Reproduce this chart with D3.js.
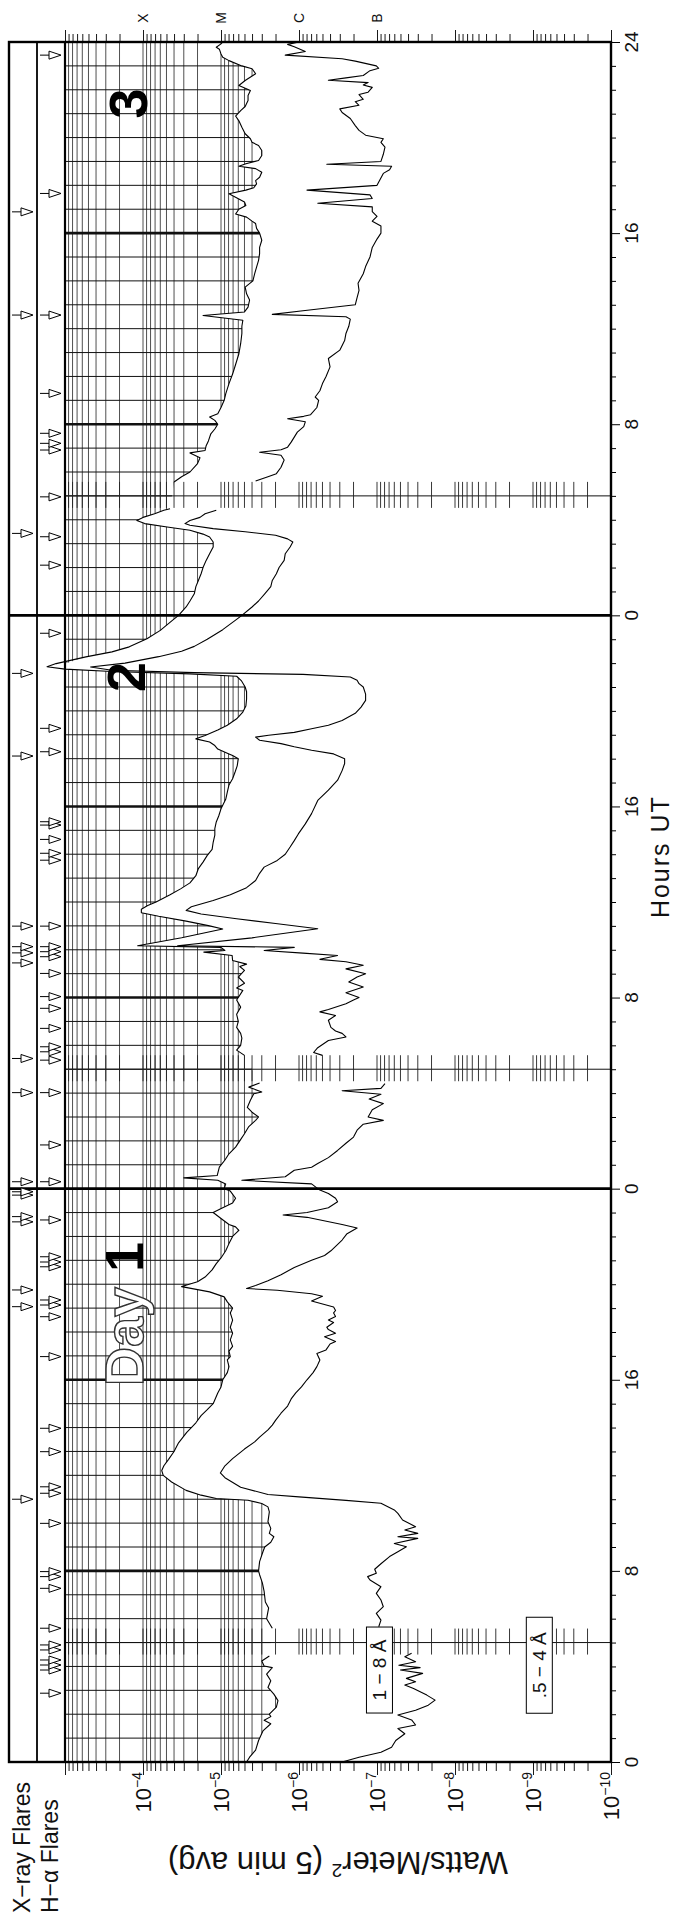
<!DOCTYPE html>
<html>
<head>
<meta charset="utf-8">
<title>GOES X-ray Flux, 3 days</title>
<script src="https://cdn.jsdelivr.net/npm/d3@7"></script>
<style>
html,body{margin:0;padding:0;background:#fff;}
svg{display:block;}
text{font-family:"Liberation Sans",Arial,Helvetica,sans-serif;}
</style>
</head>
<body>
<svg id="chart" width="691" height="1919"></svg>
<script>
// ---------------- data ----------------
// 5-minute averaged X-ray flux [hour UT, W/m^2]; null marks a data gap
const longDay1 = [[0,4.7e-6],[0.2,4.3e-6],[0.5,3.6e-6],[0.9,3.3e-6],[1.3,2.9e-6],[1.6,2.3e-6],[1.75,2.8e-6],[1.9,2.3e-6],[2.0,2.4e-6],[2.3,1.95e-6],[2.57,1.86e-6],[2.84,2.1e-6],[3.12,2.5e-6],[3.4,2.3e-6],[3.68,2.6e-6],[3.95,2.2e-6],[4.02,2.8e-6],[4.23,3.0e-6],[4.44,2.4e-6],[4.5,null],[5.6,2.2e-6],[6.0,2.6e-6],[6.45,2.45e-6],[6.7,2.7e-6],[7.14,2.8e-6],[7.5,2.95e-6],[7.84,3.2e-6],[8.0,3.3e-6],[8.39,3.2e-6],[8.8,2.9e-6],[9.0,2.75e-6],[9.2,2.3e-6],[9.43,2.1e-6],[9.57,2.4e-6],[9.78,2.3e-6],[10.06,2.5e-6],[10.47,2.4e-6],[10.68,2.5e-6],[10.82,3.0e-6],[10.96,4.5e-6],[11.03,1.15e-5],[11.17,1.8e-5],[11.37,2.8e-5],[11.72,4.3e-5],[12.0,5.5e-5],[12.2,5.75e-5],[12.4,5.4e-5],[12.67,4.7e-5],[13.0,4.0e-5],[13.36,3.5e-5],[13.8,2.75e-5],[14.0,2.4e-5],[14.2,2.1e-5],[14.5,1.8e-5],[14.75,1.5e-5],[15.0,1.26e-5],[15.45,1.1e-5],[15.7,1.0e-5],[16.0,9.5e-6],[16.3,8.3e-6],[16.55,7.9e-6],[16.83,8.3e-6],[16.97,7.6e-6],[17.2,7.9e-6],[17.4,7.1e-6],[17.67,7.6e-6],[17.95,7.1e-6],[18.2,7.6e-6],[18.5,7.1e-6],[18.8,7.6e-6],[19.0,7.1e-6],[19.26,8.3e-6],[19.47,9.1e-6],[19.68,1.4e-5],[19.9,3.2e-5],[19.97,2.75e-5],[20.1,2.0e-5],[20.3,1.6e-5],[20.6,1.3e-5],[20.86,1.15e-5],[21.1,1.0e-5],[21.4,8.7e-6],[21.7,7.9e-6],[22.0,7.1e-6],[22.25,5.9e-6],[22.4,6.5e-6],[22.5,7.9e-6],[22.75,1.0e-5],[23.0,1.26e-5],[23.2,9.5e-6],[23.4,7.1e-6],[23.6,6.5e-6],[23.9,7.6e-6],[24.0,9.1e-6]];
const longDay2 = [[0,9.1e-6],[0.2,8.7e-6],[0.35,1.1e-5],[0.45,3.0e-5],[0.55,1.12e-5],[0.9,1.05e-5],[1.2,8.9e-6],[1.46,7.9e-6],[1.74,6.5e-6],[2.0,5.75e-6],[2.3,5.0e-6],[2.6,4.4e-6],[2.86,3.6e-6],[3.0,3.3e-6],[3.2,4.0e-6],[3.4,4.6e-6],[3.7,4.2e-6],[3.97,3.8e-6],[4.05,3.0e-6],[4.25,4.4e-6],[4.42,3.2e-6],[4.46,null],[5.58,5.0e-6],[5.8,6.3e-6],[6.0,5.6e-6],[6.3,5.4e-6],[6.5,5.6e-6],[6.75,6.3e-6],[7.0,6.0e-6],[7.3,6.3e-6],[7.6,5.6e-6],[7.9,6.3e-6],[8.0,6.0e-6],[8.3,5.25e-6],[8.4,6.3e-6],[8.6,5.0e-6],[8.86,6.0e-6],[9.14,5.0e-6],[9.3,5.75e-6],[9.4,4.7e-6],[9.55,7.1e-6],[9.76,7.2e-6],[9.9,1.66e-5],[9.97,8.9e-6],[10.1,1.0e-5],[10.17,1.17e-4],[10.5,3.2e-5],[10.87,9.5e-6],[11.0,1.4e-5],[11.2,2.8e-5],[11.4,6.3e-5],[11.55,1.05e-4],[11.7,1.05e-4],[11.85,8.7e-5],[12.0,6.8e-5],[12.3,4.5e-5],[12.55,3.3e-5],[12.8,2.5e-5],[13.1,2.1e-5],[13.4,1.95e-5],[13.67,1.7e-5],[13.95,1.5e-5],[14.2,1.3e-5],[14.5,1.26e-5],[14.8,1.2e-5],[15.07,1.2e-5],[15.35,1.15e-5],[15.6,1.07e-5],[15.9,1.0e-5],[16.3,8.7e-6],[16.6,8.3e-6],[16.9,7.9e-6],[17.16,7.1e-6],[17.44,6.6e-6],[17.7,6.2e-6],[18.0,6.0e-6],[18.13,7.1e-6],[18.2,7.9e-6],[18.4,1.1e-5],[18.55,1.2e-5],[18.7,1.4e-5],[18.83,2.1e-5],[18.97,1.6e-5],[19.2,1.1e-5],[19.4,8.3e-6],[19.67,6.3e-6],[19.95,5.25e-6],[20.2,4.8e-6],[20.5,4.7e-6],[20.8,4.7e-6],[21.0,4.9e-6],[21.27,5.5e-6],[21.45,6.3e-6],[21.55,2.5e-5],[21.65,2.5e-4],[21.75,1.0e-3],[21.85,1.7e-3],[21.98,1.3e-3],[22.26,5.4e-4],[22.47,2.5e-4],[22.68,1.5e-4],[23.02,8.9e-5],[23.37,6.0e-5],[23.79,4.2e-5],[24.0,3.5e-5]];
const longDay3 = [[0,3.5e-5],[0.35,2.8e-5],[0.6,2.5e-5],[0.9,2.2e-5],[1.2,2.1e-5],[1.46,1.95e-5],[1.74,1.8e-5],[2.0,1.7e-5],[2.3,1.55e-5],[2.58,1.4e-5],[2.86,1.26e-5],[3.07,1.26e-5],[3.28,1.4e-5],[3.4,1.7e-5],[3.56,2.5e-5],[3.7,4.9e-5],[3.84,9.5e-5],[3.97,1.2e-4],[4.1,1.0e-4],[4.25,7.1e-5],[4.4,5.4e-5],[4.46,4.5e-5],[4.5,null],[5.58,4.0e-5],[5.8,3.2e-5],[6.0,2.5e-5],[6.35,2.0e-5],[6.6,1.86e-5],[6.8,2.5e-5],[6.9,1.6e-5],[7.1,1.55e-5],[7.3,1.45e-5],[7.6,1.35e-5],[7.8,1.2e-5],[8.0,1.1e-5],[8.16,1.2e-5],[8.3,1.4e-5],[8.44,1.1e-5],[8.7,1.0e-5],[9.0,9.1e-6],[9.27,8.7e-6],[9.7,7.9e-6],[10.1,7.1e-6],[10.5,6.5e-6],[10.95,5.9e-6],[11.37,5.6e-6],[11.8,5.4e-6],[12.1,5.4e-6],[12.35,5.25e-6],[12.55,1.7e-5],[12.7,5.0e-6],[12.9,4.5e-6],[13.2,4.3e-6],[13.46,4.7e-6],[13.74,4.9e-6],[14.0,3.9e-6],[14.3,3.7e-6],[14.58,3.5e-6],[14.86,3.3e-6],[15.14,3.2e-6],[15.4,3.2e-6],[15.7,3.0e-6],[16.0,3.2e-6],[16.2,3.5e-6],[16.4,3.6e-6],[16.5,4.0e-6],[16.67,4.7e-6],[16.8,6.5e-6],[17.0,5.9e-6],[17.16,4.8e-6],[17.3,5.0e-6],[17.65,7.9e-6],[17.8,4.8e-6],[17.9,3.8e-6],[18.06,3.5e-6],[18.2,3.6e-6],[18.34,3.2e-6],[18.55,3.0e-6],[18.7,3.6e-6],[18.8,5.9e-6],[18.9,4.8e-6],[19.04,3.3e-6],[19.25,3.0e-6],[19.46,3.0e-6],[19.67,3.3e-6],[19.8,4.0e-6],[19.95,4.2e-6],[20.16,4.9e-6],[20.43,5.4e-6],[20.7,5.9e-6],[20.9,6.5e-6],[21.13,5.6e-6],[21.3,4.9e-6],[21.55,4.5e-6],[21.76,4.5e-6],[21.97,4.2e-6],[22.18,5.9e-6],[22.39,4.9e-6],[22.67,3.6e-6],[22.88,4.0e-6],[23.0,5.4e-6],[23.22,7.9e-6],[23.36,9.5e-6],[23.5,1.0e-5],[23.7,1.05e-5],[23.78,1.15e-5],[23.92,1.0e-5],[24.0,9.5e-6]];

const shortDay1 = [[0,2.8e-7],[0.2,1.7e-7],[0.41,8.9e-8],[0.62,6.5e-8],[0.9,5.75e-8],[1.18,4.4e-8],[1.4,5.4e-8],[1.55,3.2e-8],[1.76,3.6e-8],[1.97,5.4e-8],[2.17,3.2e-8],[2.38,2.2e-8],[2.59,1.8e-8],[2.8,2.3e-8],[3.08,3.4e-8],[3.22,4.4e-8],[3.36,3.2e-8],[3.5,4.2e-8],[3.71,2.6e-8],[3.85,5.0e-8],[3.95,2.8e-8],[4.05,5.25e-8],[4.2,3.2e-8],[4.41,4.4e-8],[4.55,3.6e-8],[4.6,null],[5.66,9.5e-8],[5.94,8.9e-8],[6.22,1.02e-7],[6.5,8.3e-8],[6.78,8.9e-8],[7.06,1.02e-7],[7.34,8.9e-8],[7.62,1.23e-7],[7.76,1.32e-7],[7.9,1.02e-7],[8.07,1.07e-7],[8.3,8.9e-8],[8.6,6.9e-8],[8.8,5.4e-8],[9.01,4.2e-8],[9.15,6.0e-8],[9.36,3.0e-8],[9.43,5.4e-8],[9.57,3.0e-8],[9.71,4.4e-8],[9.85,3.2e-8],[10.13,4.7e-8],[10.41,5.4e-8],[10.55,6.0e-8],[10.83,8.9e-8],[10.95,2.5e-7],[11.1,1.0e-6],[11.2,2.5e-6],[11.5,5.6e-6],[11.9,8.9e-6],[12.1,1.02e-5],[12.4,8.9e-6],[12.7,7.1e-6],[13.1,5.0e-6],[13.4,3.7e-6],[13.6,3.2e-6],[13.9,2.5e-6],[14.1,2.2e-6],[14.3,2.0e-6],[14.6,1.7e-6],[14.9,1.4e-6],[15.2,1.26e-6],[15.45,1.1e-6],[15.7,9.3e-7],[16.0,7.9e-7],[16.3,6.6e-7],[16.55,5.9e-7],[16.83,5.4e-7],[17.1,5.9e-7],[17.25,4.5e-7],[17.5,4.0e-7],[17.6,3.4e-7],[17.8,4.7e-7],[17.95,3.4e-7],[18.1,4.2e-7],[18.2,4.4e-7],[18.4,3.6e-7],[18.5,4.2e-7],[18.65,3.4e-7],[18.8,3.6e-7],[18.9,3.4e-7],[19.05,3.6e-7],[19.3,6.9e-7],[19.5,5.0e-7],[19.6,6.9e-7],[19.75,1.9e-6],[19.82,4.7e-6],[19.95,3.6e-6],[20.15,2.5e-6],[20.4,1.7e-6],[20.7,1.15e-6],[21.0,6.9e-7],[21.2,4.7e-7],[21.4,3.9e-7],[21.85,2.8e-7],[22.1,2.45e-7],[22.35,1.8e-7],[22.5,2.8e-7],[22.8,7.9e-7],[22.9,1.6e-6],[23.0,7.9e-7],[23.2,4.2e-7],[23.45,3.2e-7],[23.6,3.4e-7],[23.8,4.2e-7],[23.94,5.4e-7],[24.0,5.75e-7]];
const shortDay2 = [[0,5.75e-7],[0.2,6.9e-7],[0.35,5.4e-6],[0.5,1.5e-6],[0.77,1.15e-6],[0.9,6.9e-7],[1.05,5.75e-7],[1.3,4.2e-7],[1.6,3.2e-7],[1.9,2.5e-7],[2.16,2.0e-7],[2.45,1.8e-7],[2.7,1.5e-7],[2.86,8.3e-8],[3.0,1.3e-7],[3.3,1.15e-7],[3.56,8.3e-8],[3.75,1.26e-7],[3.95,8.9e-8],[4.1,2.8e-7],[4.2,8.9e-8],[4.4,7.9e-8],[4.5,null],[5.58,5.0e-7],[5.7,6.5e-7],[5.9,5.75e-7],[6.2,4.2e-7],[6.35,2.5e-7],[6.5,2.8e-7],[6.6,3.4e-7],[6.75,3.9e-7],[7.05,4.2e-7],[7.25,3.4e-7],[7.4,5.4e-7],[7.5,4.2e-7],[7.74,2.5e-7],[7.9,2.0e-7],[8.0,1.7e-7],[8.2,2.5e-7],[8.44,1.5e-7],[8.65,2.3e-7],[8.86,1.8e-7],[9.0,1.4e-7],[9.2,2.5e-7],[9.35,1.5e-7],[9.5,2.5e-7],[9.6,5.4e-7],[9.76,3.2e-7],[9.86,8.9e-7],[9.97,2.8e-6],[10.1,1.15e-6],[10.17,3.6e-5],[10.5,4.0e-6],[10.88,5.75e-7],[11.1,2.0e-6],[11.3,6.3e-6],[11.5,1.8e-5],[11.65,2.8e-5],[11.8,2.4e-5],[12.06,1.26e-5],[12.3,7.6e-6],[12.6,4.7e-6],[12.9,3.6e-6],[13.2,3.2e-6],[13.46,2.8e-6],[13.74,1.9e-6],[14.0,1.5e-6],[14.3,1.3e-6],[14.57,1.15e-6],[14.85,1.02e-6],[15.27,8.3e-7],[15.7,6.9e-7],[16.25,5.75e-7],[16.68,4.2e-7],[17.1,3.2e-7],[17.5,2.8e-7],[17.8,2.6e-7],[18.0,2.6e-7],[18.2,3.6e-7],[18.35,6.9e-7],[18.5,1.15e-6],[18.63,1.7e-6],[18.77,3.2e-6],[18.9,3.6e-6],[18.98,2.45e-6],[19.1,1.15e-6],[19.25,6.9e-7],[19.4,4.2e-7],[19.6,2.8e-7],[19.9,1.9e-7],[20.16,1.6e-7],[20.44,1.4e-7],[20.7,1.4e-7],[21.0,1.5e-7],[21.14,1.7e-7],[21.28,1.8e-7],[21.42,2.2e-7],[21.53,8.9e-7],[21.6,2.2e-5],[21.7,2.5e-4],[21.84,4.7e-4],[22.0,1.7e-4],[22.27,6.3e-5],[22.5,3.2e-5],[22.7,2.2e-5],[23.0,1.5e-5],[23.4,9.5e-6],[23.8,6.5e-6],[24.0,5.4e-6]];
const shortDay3 = [[0,5.4e-6],[0.35,4.0e-6],[0.6,3.3e-6],[0.9,2.75e-6],[1.2,2.3e-6],[1.46,2.2e-6],[1.74,1.95e-6],[2.0,1.8e-6],[2.3,1.55e-6],[2.58,1.5e-6],[2.86,1.3e-6],[3.07,1.2e-6],[3.2,1.4e-6],[3.35,2.0e-6],[3.5,4.9e-6],[3.63,1.26e-5],[3.77,2.5e-5],[3.84,2.9e-5],[3.97,2.5e-5],[4.1,1.86e-5],[4.25,1.6e-5],[4.4,1.15e-5],[4.5,null],[5.62,3.6e-6],[5.8,2.5e-6],[5.93,1.95e-6],[6.2,1.7e-6],[6.5,1.55e-6],[6.7,1.7e-6],[6.83,3.2e-6],[6.93,1.7e-6],[7.04,1.4e-6],[7.25,1.26e-6],[7.46,1.15e-6],[7.67,1.05e-6],[7.9,8.7e-7],[8.1,8.3e-7],[8.23,1.4e-6],[8.33,8.7e-7],[8.4,7.1e-7],[8.7,5.9e-7],[9.0,5.6e-7],[9.14,6.2e-7],[9.4,5.4e-7],[9.7,5.0e-7],[10.0,4.5e-7],[10.4,4.0e-7],[10.75,4.2e-7],[11.1,3.0e-7],[11.5,2.6e-7],[11.8,2.5e-7],[12.1,2.3e-7],[12.4,2.2e-7],[12.5,2.5e-7],[12.6,2.2e-6],[12.75,8.9e-7],[13.0,1.9e-7],[13.3,1.8e-7],[13.6,1.7e-7],[13.9,1.75e-7],[14.3,1.5e-7],[14.6,1.4e-7],[15.0,1.23e-7],[15.4,1.15e-7],[15.75,1.0e-7],[16.0,8.9e-8],[16.3,8.9e-8],[16.5,1.15e-7],[16.7,1.0e-7],[16.9,1.15e-7],[17.1,1.15e-7],[17.25,5.75e-7],[17.45,1.15e-7],[17.6,1.23e-7],[17.8,7.9e-7],[18.0,1.0e-7],[18.5,8.3e-8],[18.65,6.9e-8],[18.8,6.5e-8],[18.88,4.4e-7],[19.0,8.9e-8],[19.3,8.3e-8],[19.6,7.9e-8],[19.8,8.9e-8],[19.95,8.3e-8],[20.1,1.4e-7],[20.3,1.7e-7],[20.5,1.9e-7],[20.8,2.2e-7],[21.05,2.8e-7],[21.2,3.0e-7],[21.35,1.7e-7],[21.5,1.9e-7],[21.6,1.5e-7],[21.8,1.7e-7],[21.9,1.3e-7],[22.1,1.15e-7],[22.2,1.5e-7],[22.3,1.3e-7],[22.4,4.2e-7],[22.5,2.5e-7],[22.6,1.5e-7],[22.8,1.23e-7],[22.9,9.5e-8],[23.0,1.02e-7],[23.2,1.9e-7],[23.3,2.8e-7],[23.45,1.5e-6],[23.6,8.3e-7],[23.8,1.15e-6],[23.9,1.4e-6],[24.0,1.0e-6]];

// flare reports, hours since 00 UT of day 1
const xrayFlareHours = [11.0,19.06,19.76,22.61,22.83,23.73,23.87,24.29,28.02,29.45,33.45,33.87,34.13,34.99,42.11,45.57,51.43,60.57,64.89];
const haFlareHours = [2.88,3.85,4.06,4.27,4.69,4.9,5.6,7.27,7.76,7.97,9.99,11.25,11.52,12.99,13.97,16.97,18.64,19.13,19.34,20.73,20.93,21.15,22.69,24.29,25.83,28.02,29.38,29.73,29.94,30.71,31.55,32.04,33.01,33.71,33.92,34.13,34.99,37.75,38.04,38.62,39.22,39.36,42.29,43.27,47.25,50.1,51.29,52.96,54.92,55.2,55.62,57.29,60.57,65.66,71.45];

// axis / annotation values
const dayStartHours = [0, 24, 48];
const dayLabels = ["Day", "2", "3"];
const fluxDecades = [1e-4, 1e-5, 1e-6, 1e-7, 1e-8, 1e-9, 1e-10];
const decadeExponents = ["−4", "−5", "−6", "−7", "−8", "−9", "−10"];
const classLetters = ["X", "M", "C", "B"];
const classFlux = [1e-4, 1e-5, 1e-6, 1e-7];
const hourTickLabels = [0, 8, 16];
const gapMarkerHour = 5;   // daily data-gap marker

// ---------------- layout ----------------
const svg = d3.select("#chart");
const P = {left: 65, right: 611, top: 42, bottom: 1762};
const frameLeft = 9, flareSplit = 37;
const totalHours = 72;

const x = d3.scaleLog().domain([1e-3, 1e-10]).range([P.left, P.right]);
const y = d3.scaleLinear().domain([0, totalHours]).range([P.bottom, P.top]);

const join = days => days.flatMap((arr, i) => arr.map(([h, f]) => [h + dayStartHours[i], f]));
const longSeries = join([longDay1, longDay2, longDay3]);
const shortSeries = join([shortDay1, shortDay2, shortDay3]);

const logTicks = x.ticks();                       // 1..9 x 10^n
const isDecade = v => Math.abs(Math.log10(v) - Math.round(Math.log10(v))) < 1e-6;

// region above the 1-8 A curve receives the grid
const clipPts = [[P.left, y(0)]]
  .concat(longSeries.filter(d => d[1] != null).map(d => [Math.max(P.left, x(d[1])), y(d[0])]))
  .concat([[P.left, y(totalHours)]]);
svg.append("defs").append("clipPath").attr("id", "aboveCurve")
  .append("polygon").attr("points", clipPts.map(p => p.join(",")).join(" "));

const grid = svg.append("g").attr("clip-path", "url(#aboveCurve)");
grid.selectAll("line.v").data(logTicks).join("line")
  .attr("x1", d => x(d)).attr("x2", d => x(d))
  .attr("y1", P.top).attr("y2", P.bottom)
  .attr("stroke", "#3c3c3c").attr("stroke-width", 0.9);
grid.selectAll("line.h").data(d3.range(1, totalHours).filter(h => h % 24 !== 0)).join("line")
  .attr("x1", P.left).attr("x2", P.right)
  .attr("y1", d => y(d)).attr("y2", d => y(d))
  .attr("stroke", "#111").attr("stroke-width", d => d % 8 === 0 ? 2.6 : 1);

// daily gap markers: a full-width line with logarithmic ticks
const markers = svg.append("g");
dayStartHours.forEach(d0 => {
  const yy = y(d0 + gapMarkerHour);
  markers.append("line").attr("x1", P.left).attr("x2", P.right)
    .attr("y1", yy).attr("y2", yy).attr("stroke", "#111").attr("stroke-width", 1);
  markers.append("g").selectAll("line").data(logTicks.filter(v => v < 9.9e-4 && v > 1.01e-10)).join("line")
    .attr("x1", v => x(v)).attr("x2", v => x(v))
    .attr("y1", yy - 14).attr("y2", yy + 12)
    .attr("stroke", "#222").attr("stroke-width", 0.9);
});

// frame
const frame = svg.append("g").attr("fill", "none").attr("stroke", "#000");
frame.append("rect").attr("x", frameLeft).attr("y", P.top)
  .attr("width", P.right - frameLeft).attr("height", P.bottom - P.top).attr("stroke-width", 2.4);
frame.append("line").attr("x1", flareSplit).attr("x2", flareSplit).attr("y1", P.top).attr("y2", P.bottom).attr("stroke-width", 1.8);
frame.append("line").attr("x1", P.left).attr("x2", P.left).attr("y1", P.top).attr("y2", P.bottom).attr("stroke-width", 2.2);
frame.selectAll("line.day").data([24, 48]).join("line")
  .attr("x1", frameLeft).attr("x2", P.right).attr("y1", d => y(d)).attr("y2", d => y(d)).attr("stroke-width", 2.8);

// axes
const bottomAxis = svg.append("g").attr("transform", `translate(0,${P.bottom})`)
  .call(d3.axisBottom(x).tickValues(logTicks).tickSize(9).tickFormat(""));
bottomAxis.select(".domain").remove();
bottomAxis.selectAll(".tick line").attr("y2", d => isDecade(d) ? 13 : 9).attr("stroke-width", 0.9);

const topAxis = svg.append("g").attr("transform", `translate(0,${P.top})`)
  .call(d3.axisTop(x).tickValues(logTicks).tickSize(9).tickFormat(""));
topAxis.select(".domain").remove();
topAxis.selectAll(".tick line").attr("y2", d => isDecade(d) ? -12 : -8).attr("stroke-width", 0.9);

const rightAxis = svg.append("g").attr("transform", `translate(${P.right},0)`)
  .call(d3.axisRight(y).tickValues(d3.range(0, totalHours + 1)).tickSize(5).tickFormat(""));
rightAxis.select(".domain").remove();
rightAxis.selectAll(".tick line").attr("x2", d => d % 8 === 0 ? 9 : 5).attr("stroke-width", 1);

// hour labels
const hourLabelData = [];
dayStartHours.forEach(d0 => hourTickLabels.forEach(h => hourLabelData.push({t: d0 + h, label: String(h)})));
hourLabelData.push({t: totalHours, label: "24"});
svg.append("g").selectAll("text").data(hourLabelData).join("text")
  .attr("transform", d => `translate(${P.right + 27},${y(d.t)}) rotate(-90)`)
  .attr("text-anchor", "middle").attr("font-size", 19).attr("fill", "#111")
  .text(d => d.label);

svg.append("text")
  .attr("transform", `translate(${P.right + 58},${y(37.9)}) rotate(-90)`)
  .attr("text-anchor", "middle").attr("font-size", 25).attr("letter-spacing", 2).attr("fill", "#111")
  .text("Hours UT");

// flux decade labels
const decLab = svg.append("g").selectAll("text").data(fluxDecades).join("text")
  .attr("transform", d => `translate(${x(d) + 8},${P.bottom + 10}) rotate(-90)`)
  .attr("text-anchor", "end").attr("font-size", 22).attr("fill", "#111");
decLab.append("tspan").text("10");
decLab.append("tspan").attr("dy", -9).attr("font-size", 14).text((d, i) => decadeExponents[i]);

// GOES class letters
svg.append("g").selectAll("text").data(classFlux).join("text")
  .attr("transform", d => `translate(${x(d) + 5},${P.top - 24}) rotate(-90)`)
  .attr("text-anchor", "middle").attr("font-size", 14).attr("fill", "#111")
  .text((d, i) => classLetters[i]);

// y-axis title (upside down)
const yTitle = svg.append("text")
  .attr("transform", `translate(338,1852) rotate(180)`)
  .attr("text-anchor", "middle").attr("font-size", 31).attr("fill", "#111");
yTitle.append("tspan").text("Watts/Meter");
yTitle.append("tspan").attr("dy", -12).attr("font-size", 19).text("2");
yTitle.append("tspan").attr("dy", 12).text(" (5 min avg)");

// flare row titles
svg.append("text").attr("transform", `translate(30,1913) rotate(-90)`)
  .attr("font-size", 23).attr("fill", "#111").text("X−ray Flares");
svg.append("text").attr("transform", `translate(58,1913) rotate(-90)`)
  .attr("font-size", 23).attr("fill", "#111").text("H−α Flares");

// curves
const line = d3.line().defined(d => d[1] != null).x(d => x(d[1])).y(d => y(d[0]));
svg.append("path").datum(longSeries).attr("d", line)
  .attr("fill", "none").attr("stroke", "#000").attr("stroke-width", 1.1).attr("stroke-linejoin", "round");
svg.append("path").datum(shortSeries).attr("d", line)
  .attr("fill", "none").attr("stroke", "#000").attr("stroke-width", 1.1).attr("stroke-linejoin", "round");

// flare arrows
function drawArrows(hours, x0) {
  const g = svg.append("g").attr("stroke", "#000").attr("stroke-width", 1).attr("fill", "#fff");
  hours.forEach(h => {
    const yy = y(h);
    g.append("line").attr("x1", x0).attr("x2", x0 + 9).attr("y1", yy).attr("y2", yy);
    g.append("path").attr("d", `M${x0 + 9},${yy - 4}L${x0 + 21},${yy}L${x0 + 9},${yy + 4}Z`);
  });
}
drawArrows(xrayFlareHours, frameLeft + 3);
drawArrows(haFlareHours, flareSplit + 3);

// band labels
function bandLabel(text, cx, cy, w, h) {
  const g = svg.append("g");
  g.append("rect").attr("x", cx - w / 2).attr("y", cy - h / 2).attr("width", w).attr("height", h)
    .attr("fill", "#fff").attr("stroke", "#000").attr("stroke-width", 1);
  g.append("text").attr("transform", `translate(${cx + 7},${cy}) rotate(-90)`)
    .attr("text-anchor", "middle").attr("font-size", 19).attr("fill", "#111").text(text);
}
bandLabel("1 − 8 Å", x(9.3e-8), y(3.85), 26, 86);
bandLabel(".5 − 4 Å", x(8.3e-10), y(4.05), 26, 96);

// day labels
const dayG = svg.append("g").attr("font-weight", "bold").attr("font-size", 54);
const d1 = dayG.append("text").attr("transform", `translate(${P.left + 78},${y(15.74)}) rotate(-90)`);
d1.append("tspan").attr("fill", "#fff").attr("stroke", "#333").attr("stroke-width", 1.4).text(dayLabels[0]);
d1.append("tspan").attr("fill", "#000").text(" 1");
dayG.append("text").attr("transform", `translate(${P.left + 80},${y(44.79)}) rotate(-90)`).attr("fill", "#000").text(dayLabels[1]);
dayG.append("text").attr("transform", `translate(${P.left + 82},${y(68.8)}) rotate(-90)`).attr("fill", "#000").text(dayLabels[2]);
</script>
</body>
</html>
